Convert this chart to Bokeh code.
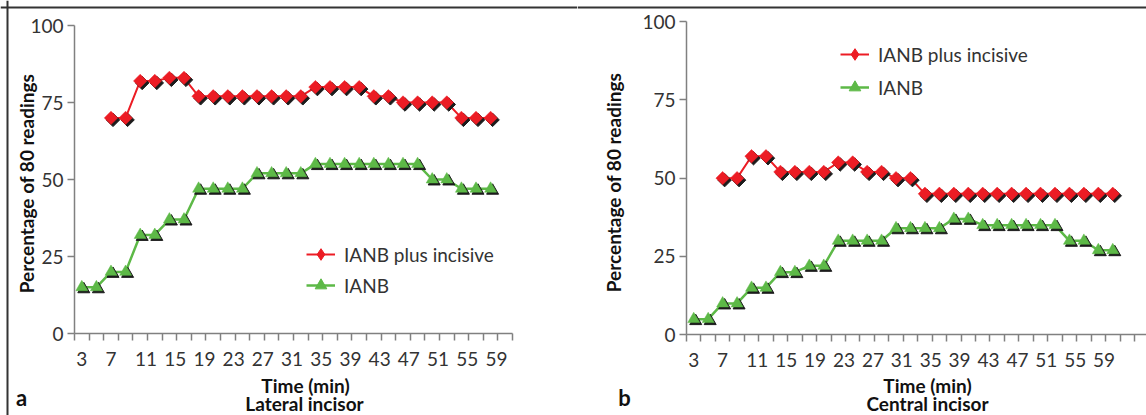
import math
from bokeh.plotting import figure
from bokeh.layouts import row
from bokeh.models import (Range1d, FixedTicker, CustomJSTickFormatter, Label,
                          Legend, LegendItem, ColumnDataSource, Span)
from bokeh.transform import dodge
from bokeh.embed import file_html
from bokeh.resources import INLINE

# ---------------- data ----------------
x_tick_labels = [3, 7, 11, 15, 19, 23, 27, 31, 35, 39, 43, 47, 51, 55, 59]
x_minor_edges = [2, 4, 6, 8, 10, 12, 14, 16, 18, 20, 22, 24, 26, 28, 30, 32,
                 34, 36, 38, 40, 42, 44, 46, 48, 50, 52, 54, 56, 58, 60, 62, 64, 66]
y_ticks = [0, 25, 50, 75, 100]

series_names = ["IANB plus incisive", "IANB"]

# (a) Lateral incisor
lat_time_ianb = [3, 5, 7, 9, 11, 13, 15, 17, 19, 21, 23, 25, 27, 29, 31, 33,
                 35, 37, 39, 41, 43, 45, 47, 49, 51, 53, 55, 57, 59]
lat_ianb = [15, 15, 20, 20, 32, 32, 37, 37, 47, 47, 47, 47, 52, 52, 52, 52,
            55, 55, 55, 55, 55, 55, 55, 55, 50, 50, 47, 47, 47]
lat_time_plus = [7, 9, 11, 13, 15, 17, 19, 21, 23, 25, 27, 29, 31, 33,
                 35, 37, 39, 41, 43, 45, 47, 49, 51, 53, 55, 57, 59]
lat_plus = [70, 70, 82, 82, 83, 83, 77, 77, 77, 77, 77, 77, 77, 77,
            80, 80, 80, 80, 77, 77, 75, 75, 75, 75, 70, 70, 70]

# (b) Central incisor
cen_time_ianb = [3, 5, 7, 9, 11, 13, 15, 17, 19, 21, 23, 25, 27, 29, 31, 33,
                 35, 37, 39, 41, 43, 45, 47, 49, 51, 53, 55, 57, 59, 61]
cen_ianb = [5, 5, 10, 10, 15, 15, 20, 20, 22, 22, 30, 30, 30, 30, 34, 34,
            34, 34, 37, 37, 35, 35, 35, 35, 35, 35, 30, 30, 27, 27]
cen_time_plus = [7, 9, 11, 13, 15, 17, 19, 21, 23, 25, 27, 29, 31, 33,
                 35, 37, 39, 41, 43, 45, 47, 49, 51, 53, 55, 57, 59, 61]
cen_plus = [50, 50, 57, 57, 52, 52, 52, 52, 55, 55, 52, 52, 50, 50,
            45, 45, 45, 45, 45, 45, 45, 45, 45, 45, 45, 45, 45, 45]

# ---------------- style ----------------
RED = "#EC1C24"
GREEN = "#5DB947"
SHADOW = "#1c1c1c"
AXIS = "#808080"
TXT = "#333333"
FRAME = "#333333"
FONT = "Lato"
H = 415  # canvas height of each panel
NAN = float("nan")


def make_panel(width, ax_px, top_px, px_t, px_y, x_bound_end,
               t_g, v_g, t_r, v_r,
               ylab_pos, xlab_pos, sub_pos, sub_text, letter_pos, letter,
               legend_loc, legend_spacing, left_frame):
    # the plot frame covers the whole canvas; axes are pinned at t=2 / y=0
    x0 = 2 - ax_px / px_t
    x1 = x0 + width / px_t
    y1 = 100 + top_px / px_y
    y0 = y1 - H / px_y
    p = figure(width=width, height=H, x_range=Range1d(x0, x1),
               y_range=Range1d(y0, y1), output_backend="svg",
               toolbar_location=None, min_border=0)
    p.outline_line_color = None
    p.xgrid.grid_line_color = None
    p.ygrid.grid_line_color = None
    p.background_fill_color = "white"
    p.border_fill_color = "white"

    # outer frame of the figure (top line, and left line on the first panel)
    p.add_layout(Span(location=H - 7, location_units="screen", dimension="width",
                      line_color=FRAME, line_width=2))
    if left_frame:
        p.add_layout(Span(location=7, location_units="screen", dimension="height",
                          line_color=FRAME, line_width=2))

    label_pos = [t + (0.8 if t >= 10 else 0.0) for t in x_tick_labels]
    xa = p.xaxis[0]
    xa.fixed_location = 0
    xa.bounds = (2, x_bound_end)
    xa.ticker = FixedTicker(ticks=label_pos,
                            minor_ticks=[m for m in x_minor_edges if m <= x_bound_end])
    xa.formatter = CustomJSTickFormatter(code="return Math.floor(tick + 1e-6).toString()")
    xa.axis_line_color = AXIS
    xa.axis_line_width = 1.5
    xa.major_tick_out = 0
    xa.major_tick_in = 0
    xa.minor_tick_out = 7
    xa.minor_tick_in = 0
    xa.minor_tick_line_color = AXIS
    xa.minor_tick_line_width = 1.5
    xa.major_label_standoff = 11
    xa.major_label_text_font = FONT
    xa.major_label_text_font_size = "19px"
    xa.major_label_text_color = TXT

    ya = p.yaxis[0]
    ya.fixed_location = 2
    ya.bounds = (0, 100)
    ya.ticker = FixedTicker(ticks=y_ticks, minor_ticks=[])
    ya.axis_line_color = AXIS
    ya.axis_line_width = 1.5
    ya.major_tick_out = 7
    ya.major_tick_in = 0
    ya.major_tick_line_color = AXIS
    ya.major_tick_line_width = 1.5
    ya.minor_tick_out = 0
    ya.minor_tick_in = 0
    ya.major_label_standoff = 4
    ya.major_label_text_font = FONT
    ya.major_label_text_font_size = "19px"
    ya.major_label_text_color = TXT

    dx = 2.0 / px_t
    dy = -2.0 / px_y
    for t, v, color, marker, size, angle, lw in [
        (t_r, v_r, RED, "square", 9.5, math.pi / 4, 2),
        (t_g, v_g, GREEN, "triangle", 12, 0, 2.5),
    ]:
        src = ColumnDataSource(dict(t=t, v=v))
        p.line("t", "v", source=src, line_color=color, line_width=lw)
        p.scatter(x=dodge("t", dx), y=dodge("v", dy), source=src,
                  marker=marker, size=size, angle=angle,
                  fill_color=SHADOW, line_color=SHADOW)
        p.scatter("t", "v", source=src, marker=marker, size=size, angle=angle,
                  fill_color=color, line_color=color, line_width=0.5)

    # legend samples (renderers without visible points)
    items = []
    for name, color, marker, lw in [
        (series_names[0], RED, "diamond", 2),
        (series_names[1], GREEN, "triangle", 2.5),
    ]:
        rl = p.line(x=[NAN], y=[NAN], line_color=color, line_width=lw)
        rm = p.scatter(x=[NAN], y=[NAN], marker=marker, size=10,
                       fill_color=color, line_color=color)
        items.append(LegendItem(label=name, renderers=[rl, rm]))
    leg = Legend(items=items, location=legend_loc, orientation="vertical",
                 border_line_color=None, background_fill_alpha=0,
                 padding=0, margin=0, spacing=legend_spacing,
                 glyph_width=29, glyph_height=30, label_height=20,
                 label_standoff=9, label_text_font=FONT,
                 label_text_font_size="19px", label_text_color=TXT)
    p.add_layout(leg)

    common = dict(x_units="screen", y_units="screen", text_align="center",
                  text_baseline="middle", text_font=FONT, text_font_style="bold",
                  text_color="#111111")
    p.add_layout(Label(x=ylab_pos[0], y=ylab_pos[1], text="Percentage of 80 readings",
                       angle=math.pi / 2, text_font_size="19px", **common))
    p.add_layout(Label(x=xlab_pos[0], y=xlab_pos[1], text="Time (min)",
                       text_font_size="19px", **common))
    p.add_layout(Label(x=sub_pos[0], y=sub_pos[1], text=sub_text,
                       text_font_size="19px", **common))
    p.add_layout(Label(x=letter_pos[0], y=letter_pos[1], text=letter,
                       text_font_size="22px", **common))
    return p


# text positions (centres) are in pixels from each panel's bottom-left corner
p1 = make_panel(577, 74, 25, 7.3, 3.08, 62,
                lat_time_ianb, lat_ianb, lat_time_plus, lat_plus,
                (26, 232), (305, 30), (304, 12), "Lateral incisor",
                (21, 18), "a", (306, 115), 1, True)
p2 = make_panel(569, 109, 21, 7.225, 3.133, 66,
                cen_time_ianb, cen_ianb, cen_time_plus, cen_plus,
                (36, 233), (350, 30), (350, 12), "Central incisor",
                (47, 18), "b", (263, 313), 3, False)

layout = row(p1, p2, spacing=0)

open("out.html", "w").write(file_html(layout, INLINE))
